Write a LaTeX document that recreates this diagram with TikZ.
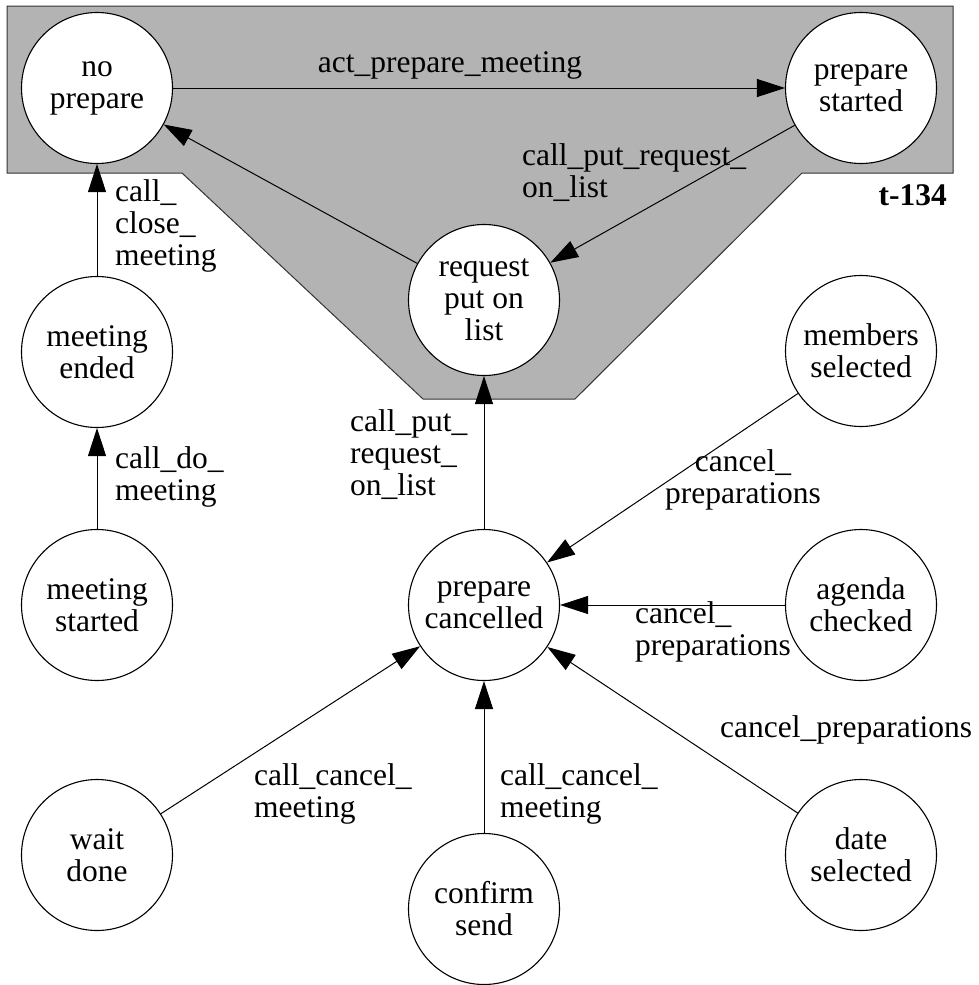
\documentclass[tikz,border=0pt]{standalone}
\usepackage{fontspec}
\setmainfont{Liberation Serif}
\usetikzlibrary{arrows.meta}
\newcommand\labfont{\fontsize{31.5}{32}\selectfont}
\definecolor{shade}{RGB}{179,179,179}
\begin{document}
\begin{tikzpicture}[x=1pt,y=-1pt,
  state/.style={circle,draw,line width=1.1pt,fill=white,minimum size=151pt,inner sep=0pt,align=center,font=\labfont},
  lab/.style={inner sep=0pt,align=left,font=\labfont},
  conn/.style={line width=1pt,-{Triangle[length=28pt,width=18pt]}}]
\useasboundingbox (0,0) rectangle (978,985);
\draw[fill=shade,draw=black!80,line width=1pt] (7,6) -- (953,6) -- (953,173) -- (802,173) -- (575,399) -- (423,399) -- (182,173) -- (7,173) -- cycle;

\node[state] (np) at (97,88) {no\\prepare};
\node[state] (ps) at (861,88) {prepare\\started};
\node[state] (rl) at (484,300) {request\\put on\\list};
\node[state] (me) at (97,352) {meeting\\ended};
\node[state] (ms) at (97,605) {meeting\\started};
\node[state] (pc) at (484,605) {prepare\\cancelled};
\node[state] (mb) at (861,351) {members\\selected};
\node[state] (ag) at (861,605) {agenda\\checked};
\node[state] (wd) at (97,855) {wait\\done};
\node[state] (cs) at (484,909) {confirm\\send};
\node[state] (ds) at (861,855) {date\\selected};

\draw[conn] (np) -- (ps);
\draw[conn] (ps) -- (rl);
\draw[conn] (rl) -- (np);
\draw[conn] (me) -- (np);
\draw[conn] (ms) -- (me);
\draw[conn] (pc) -- (rl);
\draw[conn] (mb) -- (pc);
\draw[conn] (ag) -- (pc);
\draw[conn] (ds) -- (pc);
\draw[conn] (wd) -- (pc);
\draw[conn] (cs) -- (pc);

\node[lab,anchor=base] (l1) at (450,72) {act\_prepare\_meeting};
\node[lab,anchor=base west] (l2) at (522,197) {call\_put\_request\_\\on\_list};
\node[lab,anchor=base west] (l3) at (115,265) {call\_\\close\_\\meeting};
\node[lab,anchor=base west] (l4) at (115,500) {call\_do\_\\meeting};
\node[lab,anchor=base west] (l5) at (350,495) {call\_put\_\\request\_\\on\_list};
\node[lab,anchor=base,align=center] (l6) at (743,503) {cancel\_\\preparations};
\node[lab,anchor=base west] (l7) at (635,655) {cancel\_\\preparations};
\node[lab,anchor=base west] (l8) at (720,737) {cancel\_preparations};
\node[lab,anchor=base west] (l9) at (254,817) {call\_cancel\_\\meeting};
\node[lab,anchor=base west] (l10) at (500,817) {call\_cancel\_\\meeting};
\node[lab,anchor=base east,font=\labfont\bfseries] (t) at (947,205) {t-134};
\end{tikzpicture}
\end{document}
